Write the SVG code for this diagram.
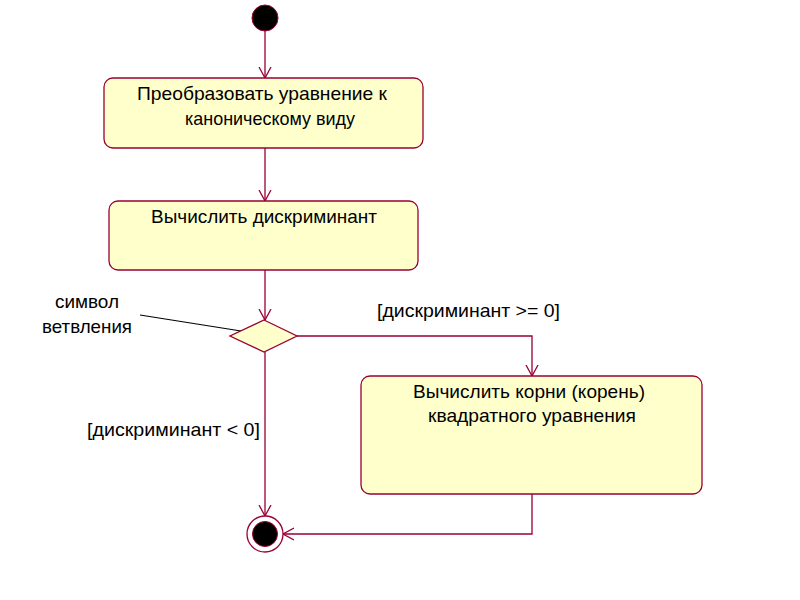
<svg xmlns="http://www.w3.org/2000/svg" width="800" height="600" viewBox="0 0 800 600">
<defs>
<style>
.act{fill:#ffffcc;stroke:#990033;stroke-width:1.3}
.ln{fill:none;stroke:#990033;stroke-width:1.3}
.t{font-family:"Liberation Sans",Arial,sans-serif;font-size:18.5px;fill:#000}
.c{text-anchor:middle}
</style>
<marker id="arr" markerWidth="12" markerHeight="14" refX="11" refY="7" orient="auto" markerUnits="userSpaceOnUse">
<path d="M0,1 L11,7 L0,13" fill="none" stroke="#990033" stroke-width="1.3"/>
</marker>
</defs>
<rect width="800" height="600" fill="#fff"/>
<g id="connectors">
<line class="ln" x1="265" y1="31" x2="265" y2="78" marker-end="url(#arr)"/>
<line class="ln" x1="265" y1="148" x2="265" y2="201" marker-end="url(#arr)"/>
<line class="ln" x1="265" y1="270" x2="265" y2="320" marker-end="url(#arr)"/>
<polyline class="ln" points="297,336 532,336 532,376" marker-end="url(#arr)"/>
<line class="ln" x1="265" y1="352" x2="265" y2="516" marker-end="url(#arr)"/>
<polyline class="ln" points="532,494 532,534 283,534" marker-end="url(#arr)"/>
<line x1="140" y1="315" x2="241" y2="331" stroke="#000" stroke-width="1.2"/>
</g>
<g id="start">
<circle cx="265" cy="18" r="13" fill="#000" stroke="#990033" stroke-width="1"/>
</g>
<g id="act1">
<rect class="act" x="104" y="78" width="319" height="70" rx="9"/>
<text class="t" x="137" y="100" textLength="250" lengthAdjust="spacingAndGlyphs">Преобразовать уравнение к</text>
<text class="t" x="185" y="125" textLength="170" lengthAdjust="spacingAndGlyphs">каноническому виду</text>
</g>
<g id="act2">
<rect class="act" x="109" y="201" width="309" height="69" rx="9"/>
<text class="t" x="151" y="223" textLength="226" lengthAdjust="spacingAndGlyphs">Вычислить дискриминант</text>
</g>
<g id="decision">
<polygon class="act" points="264,320 297,336 264,352 230,336"/>
</g>
<g id="act3">
<rect class="act" x="361" y="376" width="341" height="118" rx="9"/>
<text class="t" x="413" y="398" textLength="232" lengthAdjust="spacingAndGlyphs">Вычислить корни (корень)</text>
<text class="t" x="428" y="422" textLength="208" lengthAdjust="spacingAndGlyphs">квадратного уравнения</text>
</g>
<g id="end">
<circle cx="265" cy="534" r="18" fill="#fff" stroke="#990033" stroke-width="1.3"/>
<circle cx="265" cy="534" r="12.5" fill="#000" stroke="#990033" stroke-width="1"/>
</g>
<g id="labels">
<text class="t" x="55" y="308" textLength="64" lengthAdjust="spacingAndGlyphs">символ</text>
<text class="t" x="42" y="333" textLength="90" lengthAdjust="spacingAndGlyphs">ветвления</text>
<text class="t" x="377" y="317" textLength="183" lengthAdjust="spacingAndGlyphs">[дискриминант &gt;= 0]</text>
<text class="t" x="87" y="436" textLength="173" lengthAdjust="spacingAndGlyphs">[дискриминант &lt; 0]</text>
</g>
</svg>
